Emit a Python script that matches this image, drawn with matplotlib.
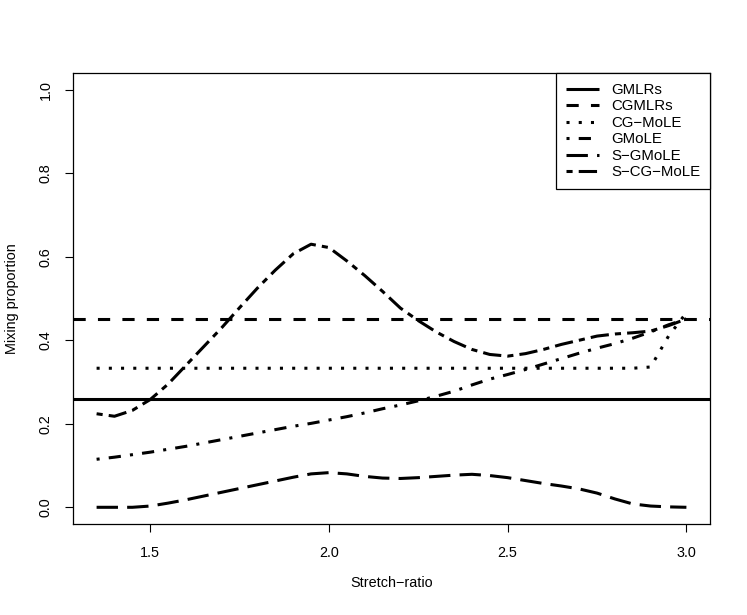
import numpy as np
import matplotlib
matplotlib.use("Agg")
import matplotlib.pyplot as plt

plt.rcParams['font.family'] = ['Liberation Sans', 'DejaVu Sans']

# stretch ratio grid
stretch = [1.35, 1.40, 1.45, 1.50, 1.55, 1.60, 1.65, 1.70, 1.75, 1.80, 1.85, 1.90,
           1.95, 2.00, 2.05, 2.10, 2.15, 2.20, 2.25, 2.30, 2.35, 2.40, 2.45, 2.50,
           2.55, 2.60, 2.65, 2.70, 2.75, 2.80, 2.85, 2.90, 2.95, 3.00]

# constant estimates
gmlrs = 0.259
cgmlrs = 0.452

cg_mole = [0.333] * 31 + [0.336, 0.410, 0.466]

gmole = [0.115, 0.120, 0.126, 0.132, 0.139, 0.146, 0.154, 0.162, 0.170, 0.178,
         0.186, 0.194, 0.201, 0.209, 0.217, 0.226, 0.236, 0.245, 0.255, 0.266,
         0.278, 0.293, 0.307, 0.318, 0.330, 0.343, 0.356, 0.369, 0.381, 0.392,
         0.405, 0.420, 0.437, 0.451]

s_gmole = [0.000, 0.000, 0.000, 0.003, 0.010, 0.018, 0.027, 0.036, 0.045, 0.054,
           0.063, 0.072, 0.080, 0.083, 0.080, 0.074, 0.070, 0.069, 0.071, 0.074,
           0.077, 0.079, 0.076, 0.071, 0.064, 0.057, 0.051, 0.044, 0.034, 0.020,
           0.008, 0.003, 0.001, 0.000]

s_cg_mole = [0.224, 0.218, 0.232, 0.258, 0.295, 0.340, 0.385, 0.430, 0.478, 0.525,
             0.568, 0.607, 0.630, 0.622, 0.590, 0.555, 0.517, 0.477, 0.447, 0.420,
             0.397, 0.378, 0.366, 0.362, 0.368, 0.378, 0.390, 0.400, 0.410, 0.415,
             0.418, 0.422, 0.435, 0.451]

W, H = 747, 615
fig = plt.figure(figsize=(W / 100, H / 100), dpi=100)
ax = fig.add_axes([73 / W, (H - 524) / H, (710 - 73) / W, (524 - 73) / H])

lw = 2.2
fs = 10.4
kw = dict(color='black', lw=lw, dash_capstyle='butt', solid_capstyle='butt')

ax.axhline(gmlrs, label='GMLRs', **kw)
ax.axhline(cgmlrs, label='CGMLRs', dashes=(4, 4), **kw)
ax.plot(stretch, cg_mole, label='CG\u2212MoLE', dashes=(1, 3), **kw)
ax.plot(stretch, gmole, label='GMoLE', dashes=(1, 3, 4, 3), **kw)
ax.plot(stretch, s_gmole, label='S\u2212GMoLE', dashes=(7, 3), **kw)
ax.plot(stretch, s_cg_mole, label='S\u2212CG\u2212MoLE', dashes=(2, 2, 6, 2), **kw)

ax.set_xlim(1.284, 3.066)
ax.set_ylim(-0.04, 1.04)
ax.set_xticks([1.5, 2.0, 2.5, 3.0])
ax.set_xticklabels(['1.5', '2.0', '2.5', '3.0'])
ax.set_yticks([0.0, 0.2, 0.4, 0.6, 0.8, 1.0])
ax.set_yticklabels(['0.0', '0.2', '0.4', '0.6', '0.8', '1.0'], rotation=90, va='center')
ax.tick_params(direction='out', length=5.5, width=0.8, labelsize=fs)
ax.tick_params(axis='x', pad=10)
ax.tick_params(axis='y', pad=9)
for s in ax.spines.values():
    s.set_linewidth(0.9)

ax.set_xlabel('Stretch\u2212ratio', fontsize=fs, labelpad=12)
ax.set_ylabel('Mixing proportion', fontsize=fs, labelpad=14)

leg = ax.legend(loc='upper right', fontsize=10.8, frameon=True, fancybox=False,
                edgecolor='black', framealpha=1, borderaxespad=0,
                handlelength=2.2, handletextpad=0.8, labelspacing=0.17,
                borderpad=0.65)
leg.get_frame().set_linewidth(0.9)

fig.savefig('out.png', dpi=100)
